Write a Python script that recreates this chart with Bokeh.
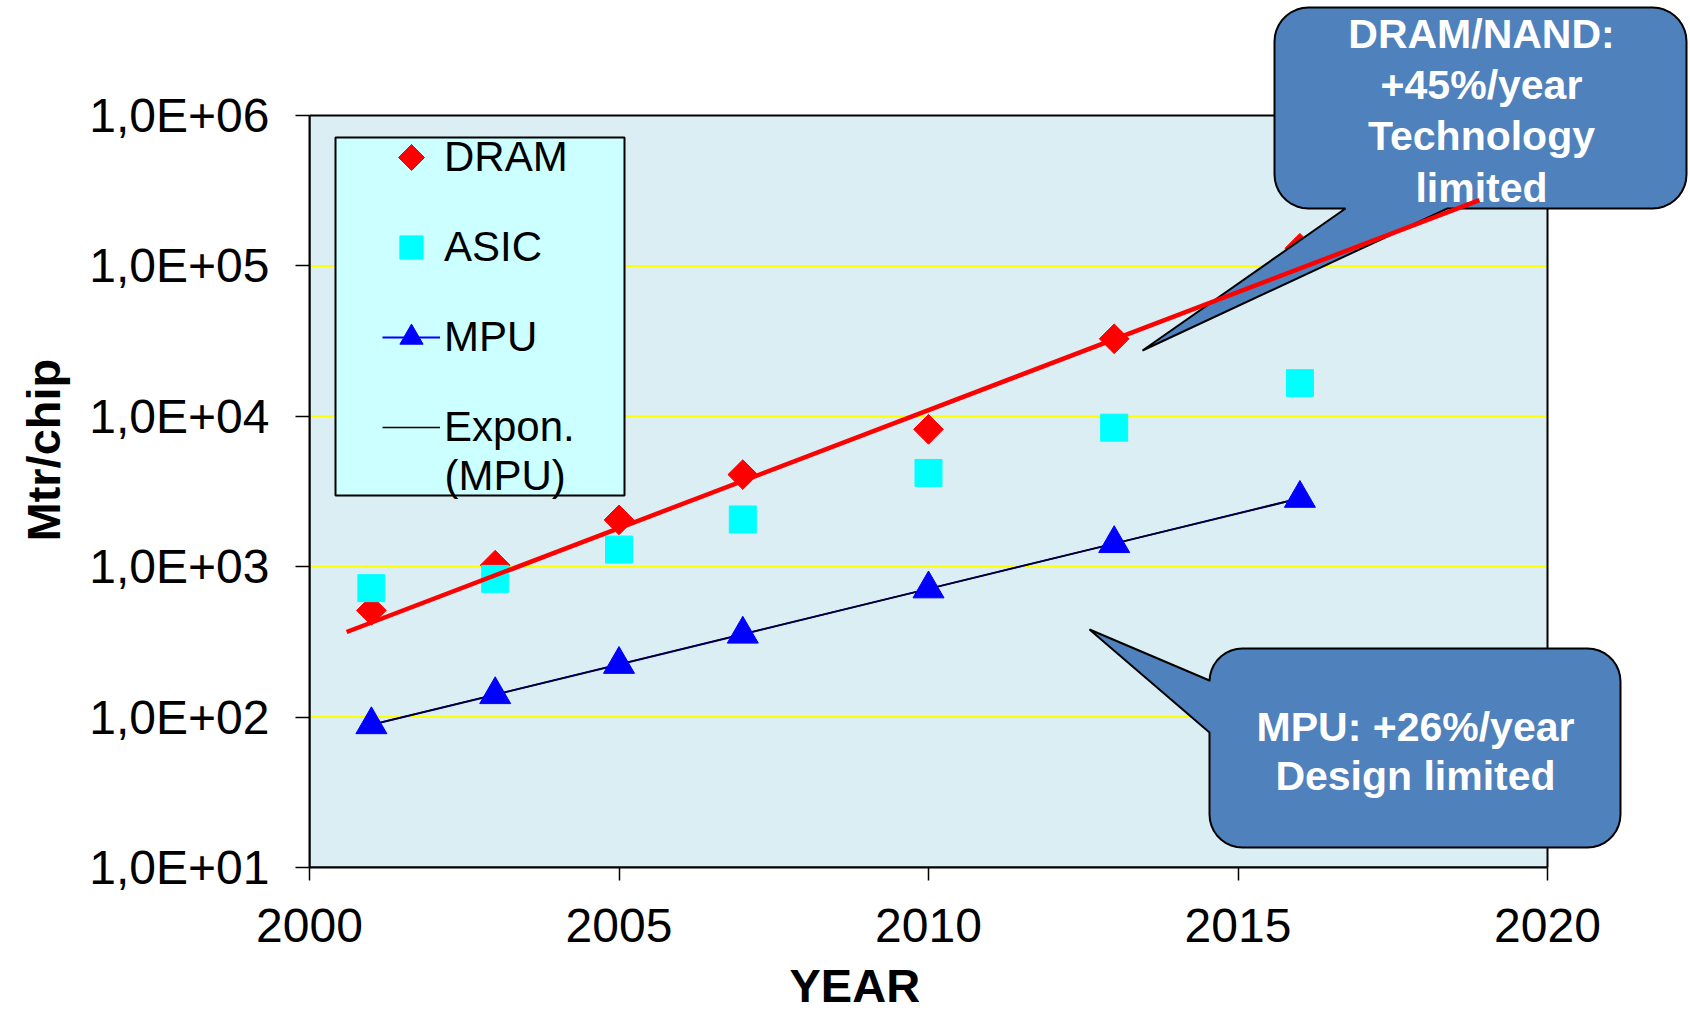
import numpy as np
from bokeh.plotting import figure
from bokeh.models import (FixedTicker, Legend, LegendItem, PolyAnnotation, Label,
                          BoxAnnotation, Title, Range1d)
from bokeh.embed import file_html
from bokeh.resources import INLINE

# ---------------- data ----------------
years = [2001, 2003, 2005, 2007, 2010, 2013, 2016]
dram_mtr = [512, 1024, 2048, 4096, 8192, 32768, 131072]
asic_mtr = [720, 830, 1300, 2060, 4200, 8400, 16600]
mpu_mtr = [89, 141, 224, 356, 712, 1424, 2848]
dram_trend_years = [2000.6, 2018.9]
dram_trend_mtr = [368, 274000]
x_tick_years = [2000, 2005, 2010, 2015, 2020]
y_tick_values = [1e1, 1e2, 1e3, 1e4, 1e5, 1e6]
y_tick_labels = ["1,0E+01", "1,0E+02", "1,0E+03", "1,0E+04", "1,0E+05", "1,0E+06"]
y_grid_values = [1e2, 1e3, 1e4, 1e5]
legend_labels = ["DRAM", "ASIC", "MPU", "Expon."]
legend_label_line2 = "(MPU)"
callout_dram_lines = ["DRAM/NAND:", "+45%/year", "Technology", "limited"]
callout_mpu_lines = ["MPU: +26%/year", "Design limited"]

# exponential trendline for MPU (least squares on log scale)
coef = np.polyfit(years, np.log10(mpu_mtr), 1)
mpu_fit_years = [years[0], years[-1]]
mpu_fit_mtr = list(10 ** np.polyval(coef, mpu_fit_years))

# ---------------- layout ----------------
FONT = "Liberation Sans"
W, H = 1688, 1025
# plot-area box (axes extents) in page pixels
AX_L, AX_R, AX_T, AX_B = 309, 1547, 115, 867
X0, X1 = x_tick_years[0], x_tick_years[-1]
Y0, Y1 = y_tick_values[0], y_tick_values[-1]
PX_YEAR = (AX_R - AX_L) / (X1 - X0)
PX_DEC = (AX_B - AX_T) / (np.log10(Y1) - np.log10(Y0))
# the frame is extended up and right so the callouts can leave the plot area
x_range = Range1d(X0, X1 + (W - AX_R) / PX_YEAR)
y_range = Range1d(Y0, 10 ** (np.log10(Y1) + AX_T / PX_DEC))

def sx(px):   # page x -> frame screen x
    return px - AX_L

def sy(py):   # page y -> frame screen y (upwards)
    return AX_B - py

p = figure(width=W, height=H, x_range=x_range, y_range=y_range,
           y_axis_type="log", output_backend="svg", toolbar_location=None,
           min_border_left=AX_L, min_border_top=0, min_border_right=0,
           min_border_bottom=H - AX_B)
p.background_fill_color = "white"
p.border_fill_color = "white"
p.outline_line_color = None
p.xgrid.visible = False
p.ygrid.visible = False

# plot area
p.add_layout(BoxAnnotation(left=X0, right=X1, bottom=Y0, top=Y1, level="underlay",
                           fill_color="#DBEEF4", fill_alpha=1, line_color=None))
# horizontal grid
p.segment(x0=[X0] * len(y_grid_values), x1=[X1] * len(y_grid_values),
          y0=y_grid_values, y1=y_grid_values, line_color="#FFFF00", line_width=2)
p.add_layout(BoxAnnotation(left=X0, right=X1, bottom=Y0, top=Y1, level="guide",
                           fill_alpha=0, line_color="black", line_width=2, line_alpha=1))

for ax in (p.xaxis[0], p.yaxis[0]):
    ax.axis_line_color = "black"
    ax.axis_line_width = 2
    ax.major_tick_line_color = "black"
    ax.major_tick_line_width = 1.5
    ax.major_tick_in = 0
    ax.minor_tick_line_color = None
    ax.major_label_text_font = FONT
    ax.major_label_text_font_size = "48px"
    ax.major_label_text_color = "black"

p.xaxis.ticker = FixedTicker(ticks=x_tick_years)
p.xaxis.bounds = (X0, X1)
p.xaxis.major_tick_out = 13
p.xaxis.major_label_standoff = 28

p.yaxis.ticker = FixedTicker(ticks=y_tick_values)
p.yaxis.bounds = (Y0, Y1)
p.yaxis.major_label_overrides = {v: s for v, s in zip(y_tick_values, y_tick_labels)}
p.yaxis.major_tick_out = 14
p.yaxis.major_label_standoff = 26

p.add_layout(Title(text="YEAR", align="left", offset=480, standoff=24,
                   vertical_align="bottom",
                   text_font=FONT, text_font_style="bold", text_font_size="47px",
                   text_color="black"), "below")
p.add_layout(Title(text="Mtr/chip", align="left", offset=326, standoff=30,
                   vertical_align="top",
                   text_font=FONT, text_font_style="bold", text_font_size="47px",
                   text_color="black"), "left")

# ---------------- series ----------------
r_dram = p.scatter(years, dram_mtr, marker="square", angle=np.pi / 4, size=21,
                   fill_color="#FF0000", line_color="#FF0000")
r_asic = p.scatter(years, asic_mtr, marker="square", size=27,
                   fill_color="#00FFFF", line_color="#00FFFF")
r_mpu_line = p.line(years, mpu_mtr, line_color="#0000FF", line_width=2)
r_mpu_fit = p.line(mpu_fit_years, mpu_fit_mtr, line_color="black", line_width=1.5)
r_mpu = p.scatter(years, mpu_mtr, marker="triangle", size=31,
                  fill_color="#0000FF", line_color="#0000FF")
# legend key for the rotated DRAM marker (drawn below as a polygon)
r_dram_key = p.scatter(x=[], y=[], marker="square", size=1, fill_alpha=0, line_alpha=0)

# ---------------- legend ----------------
p.add_layout(BoxAnnotation(left=sx(335), right=sx(624), top=sy(137), bottom=sy(495),
                           left_units="screen", right_units="screen",
                           top_units="screen", bottom_units="screen",
                           fill_color="#CCFFFF", fill_alpha=1,
                           line_color="black", line_width=2, line_alpha=1))

GW = 58
legend = Legend(items=[LegendItem(label=legend_labels[0], renderers=[r_dram_key]),
                       LegendItem(label=legend_labels[1], renderers=[r_asic]),
                       LegendItem(label=legend_labels[2], renderers=[r_mpu_line, r_mpu]),
                       LegendItem(label=legend_labels[3], renderers=[r_mpu_fit])],
                location=(sx(382), sy(456)),
                orientation="vertical",
                glyph_width=GW, glyph_height=58, label_height=58,
                label_standoff=4, spacing=32, padding=0, margin=0,
                background_fill_alpha=0, border_line_color=None,
                label_text_font=FONT, label_text_font_size="42px",
                label_text_color="black")
p.add_layout(legend)
kx, ky, kr = 411, 157, 13
p.add_layout(PolyAnnotation(xs=[sx(kx), sx(kx + kr), sx(kx), sx(kx - kr)],
                            ys=[sy(ky - kr), sy(ky), sy(ky + kr), sy(ky)],
                            xs_units="screen", ys_units="screen",
                            fill_color="#FF0000", fill_alpha=1, line_color="#FF0000",
                            line_alpha=1, line_width=1))
p.add_layout(Label(x=sx(444), y=sy(475), x_units="screen", y_units="screen",
                   text=legend_label_line2, text_font=FONT, text_font_size="42px",
                   text_align="left", text_baseline="middle", text_color="black"))

# ---------------- callouts ----------------
def callout(left, top, right, bottom, r, tail_side, b1, tip, b2):
    pts = []
    def arc(cx, cy, a0, a1):
        for a in np.linspace(np.radians(a0), np.radians(a1), 10):
            pts.append((cx + r * np.cos(a), cy + r * np.sin(a)))
    arc(right - r, top + r, -90, 0)
    arc(right - r, bottom - r, 0, 90)
    if tail_side == "bottom":
        pts.extend([b1, tip, b2])
    arc(left + r, bottom - r, 90, 180)
    if tail_side == "left":
        pts.extend([b1, tip, b2])
    arc(left + r, top + r, 180, 270)
    xs = [sx(x) for x, _ in pts]
    ys = [sy(y) for _, y in pts]
    return PolyAnnotation(xs=xs, ys=ys, xs_units="screen", ys_units="screen",
                          fill_color="#4F81BD", fill_alpha=1,
                          line_color="black", line_width=2, line_alpha=1)

p.add_layout(callout(1274, 7, 1686, 208, 34, "bottom", (1447, 208), (1142, 350), (1345, 208)))
p.add_layout(callout(1209, 648, 1620, 847, 33, "left", (1209, 732), (1089, 629), (1209, 680)))

for txt, base in zip(callout_dram_lines, [33, 84, 135, 187]):
    p.add_layout(Label(x=sx(1481), y=sy(base), x_units="screen", y_units="screen",
                       text=txt, text_font=FONT, text_font_style="bold",
                       text_font_size="41px", text_color="white",
                       text_align="center", text_baseline="alphabetic"))
for txt, base in zip(callout_mpu_lines, [726, 775]):
    p.add_layout(Label(x=sx(1415), y=sy(base), x_units="screen", y_units="screen",
                       text=txt, text_font=FONT, text_font_style="bold",
                       text_font_size="41px", text_color="white",
                       text_align="center", text_baseline="alphabetic"))

# DRAM trend drawn above the callouts
p.line(dram_trend_years, dram_trend_mtr, line_color="#FF0000", line_width=4.5,
       level="overlay")

open("out.html", "w").write(file_html(p, INLINE))
